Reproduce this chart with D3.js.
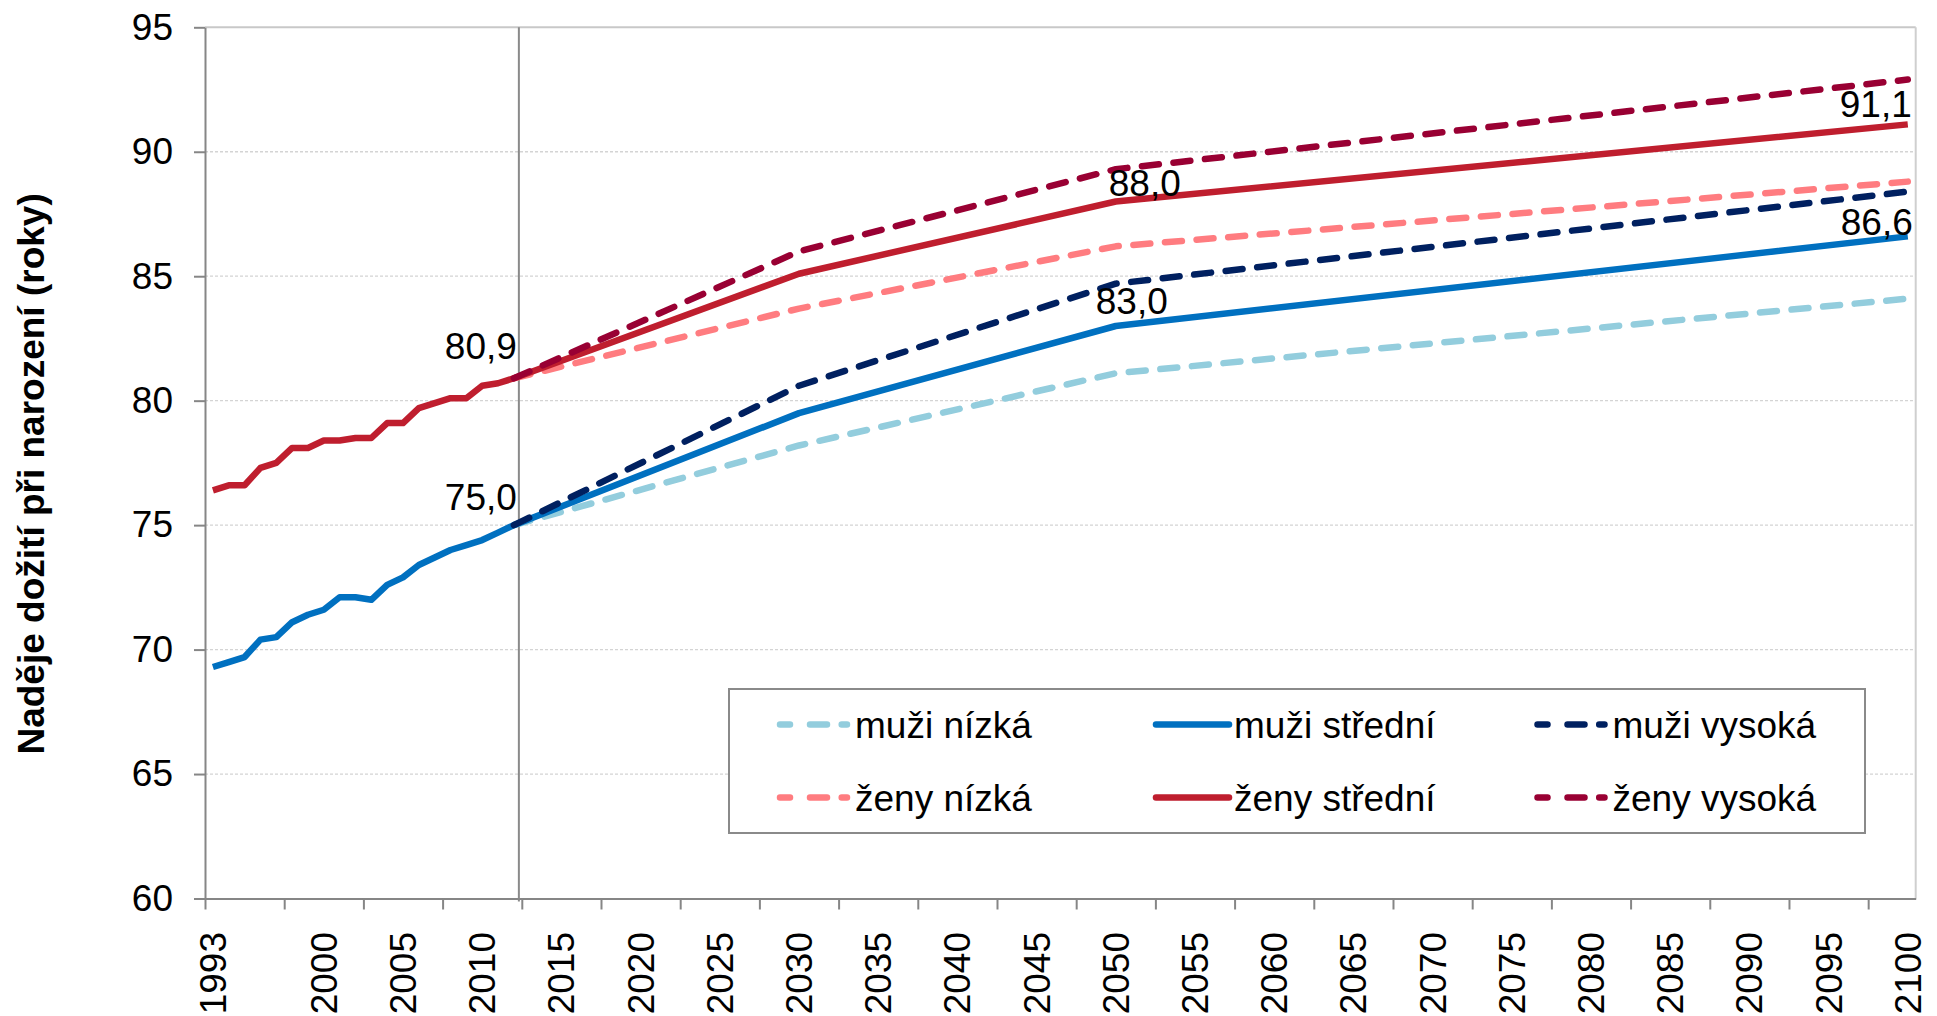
<!DOCTYPE html>
<html>
<head>
<meta charset="utf-8">
<script src="https://cdn.jsdelivr.net/npm/d3@7"></script>
<style>
  html, body { margin: 0; padding: 0; background: #fff; }
  svg { display: block; font-family: "Liberation Sans", Arial, sans-serif; }
</style>
</head>
<body>
<svg id="chart" width="1937" height="1016"></svg>
<script>
// ---------------- DATA ----------------
const histYears = d3.range(1993, 2013); // 1993..2012
const menHist   = [69.3, 69.5, 69.7, 70.4, 70.5, 71.1, 71.4, 71.6, 72.1, 72.1, 72.0, 72.6, 72.9, 73.4, 73.7, 74.0, 74.2, 74.4, 74.7, 75.0];
const womenHist = [76.4, 76.6, 76.6, 77.3, 77.5, 78.1, 78.1, 78.4, 78.4, 78.5, 78.5, 79.1, 79.1, 79.7, 79.9, 80.1, 80.1, 80.6, 80.7, 80.9];

const projYears = [2012, 2030, 2050, 2100];
const muziNizka    = [75.0, 78.2, 81.1, 84.1];
const muziStredni  = [75.0, 79.5, 83.0, 86.6];
const muziVysoka   = [75.0, 80.6, 84.7, 88.4];
const zenyNizka    = [80.9, 83.7, 86.2, 88.8];
const zenyStredni  = [80.9, 85.1, 88.0, 91.1];
const zenyVysoka   = [80.9, 86.0, 89.3, 92.9];

const categories = d3.range(1993, 2101);               // 1993..2100
const xLabelYears = [1993].concat(d3.range(2000, 2101, 5));
const yTicks = [60, 65, 70, 75, 80, 85, 90, 95];

const labels = [
  {year: 2012, value: 80.9, text: "80,9"},
  {year: 2012, value: 75.0, text: "75,0"},
  {year: 2050, value: 88.0, text: "88,0"},
  {year: 2050, value: 83.0, text: "83,0"},
  {year: 2100, value: 91.1, text: "91,1"},
  {year: 2100, value: 86.6, text: "86,6"}
];
const legendNames = ["muži nízká", "muži střední", "muži vysoká", "ženy nízká", "ženy střední", "ženy vysoká"];

// ---------------- STYLE ----------------
const colors = {
  "muži nízká": "#93CDDD", "muži střední": "#0070C0", "muži vysoká": "#002060",
  "ženy nízká": "#FF7C80", "ženy střední": "#BF1E2E", "ženy vysoká": "#990033"
};
const dashed = {"muži nízká": true, "muži střední": false, "muži vysoká": true,
                "ženy nízká": true, "ženy střední": false, "ženy vysoká": true};
const DASH = "17,14.7";
const LW = 6.5;
const FS = 37;

const pLeft = 205, pRight = 1915.7, pTop = 27.3, pBottom = 898.5;

const svg = d3.select("#chart");

const x = d3.scaleBand().domain(categories).range([pLeft, pRight]).padding(0);
const bw = x.bandwidth();
const xc = yr => x(yr) + bw / 2;
const xIdx = d3.scaleLinear().domain([0, categories.length]).range([pLeft, pRight]);
const y = d3.scaleLinear().domain([60, 95]).range([pBottom, pTop]);

// gridlines
svg.append("g").selectAll("line").data(yTicks.filter(t => t > 60 && t < 95)).join("line")
  .attr("x1", pLeft).attr("x2", pRight)
  .attr("y1", d => y(d)).attr("y2", d => y(d))
  .attr("stroke", "#d4d4d4").attr("stroke-width", 1.3).attr("stroke-dasharray", "3,2");

// plot border top/right
svg.append("line").attr("x1", pLeft).attr("x2", pRight).attr("y1", y(95)).attr("y2", y(95))
  .attr("stroke", "#c8c8c8").attr("stroke-width", 2);
svg.append("line").attr("x1", pRight).attr("x2", pRight).attr("y1", pTop).attr("y2", pBottom)
  .attr("stroke", "#cfcfcf").attr("stroke-width", 2);

// divider line after last observed year
const divX = xc(histYears[histYears.length - 1]) + 5;
svg.append("line").attr("x1", divX).attr("x2", divX).attr("y1", pTop).attr("y2", pBottom + 3)
  .attr("stroke", "#8a8a8a").attr("stroke-width", 2);

// y axis
const yAxis = svg.append("g").attr("transform", `translate(${pLeft},0)`)
  .call(d3.axisLeft(y).tickValues(yTicks).tickSize(11).tickPadding(21).tickSizeOuter(0));
yAxis.select(".domain").attr("stroke", "#868686").attr("stroke-width", 2);
yAxis.selectAll(".tick line").attr("stroke", "#868686").attr("stroke-width", 2);
yAxis.selectAll("text").attr("font-size", FS).attr("fill", "#000")
  .attr("font-family", "Liberation Sans, Arial, sans-serif");

// x axis: tick marks at category boundaries every 5
const xTickAxis = svg.append("g").attr("transform", `translate(0,${pBottom})`)
  .call(d3.axisBottom(xIdx).tickValues(d3.range(0, 106, 5)).tickSize(11).tickSizeOuter(0).tickFormat(""));
xTickAxis.select(".domain").attr("stroke", "#868686").attr("stroke-width", 2);
xTickAxis.selectAll(".tick line").attr("stroke", "#868686").attr("stroke-width", 2);

// x labels, rotated
const xLab = svg.append("g").attr("transform", `translate(0,${pBottom})`)
  .call(d3.axisBottom(x).tickValues(xLabelYears).tickSize(0).tickPadding(0));
xLab.select(".domain").remove();
xLab.selectAll("text")
  .attr("font-size", FS).attr("fill", "#000")
  .attr("font-family", "Liberation Sans, Arial, sans-serif")
  .attr("text-anchor", "end")
  .attr("y", 0).attr("dy", "0.35em")
  .attr("transform", "translate(0,33.5) rotate(-90)");

// y title
svg.append("text")
  .attr("transform", `translate(44,${(pTop + pBottom) / 2 + 11}) rotate(-90)`)
  .attr("text-anchor", "middle")
  .attr("font-size", FS).attr("font-weight", "bold").attr("fill", "#000")
  .text("Naděje dožití při narození (roky)");

// lines
const line = d3.line().x(d => xc(d[0])).y(d => y(d[1]));
const zip = (ys, vs) => ys.map((yr, i) => [yr, vs[i]]);
const series = [
  {name: "muži nízká",   pts: zip(projYears, muziNizka)},
  {name: "muži střední", pts: zip(histYears, menHist).concat(zip(projYears.slice(1), muziStredni.slice(1)))},
  {name: "muži vysoká",  pts: zip(projYears, muziVysoka)},
  {name: "ženy nízká",   pts: zip(projYears, zenyNizka)},
  {name: "ženy střední", pts: zip(histYears, womenHist).concat(zip(projYears.slice(1), zenyStredni.slice(1)))},
  {name: "ženy vysoká",  pts: zip(projYears, zenyVysoka)}
];
svg.append("g").selectAll("path").data(series).join("path")
  .attr("d", d => line(d.pts))
  .attr("fill", "none")
  .attr("stroke", d => colors[d.name])
  .attr("stroke-width", LW)
  .attr("stroke-linejoin", "round")
  .attr("stroke-linecap", d => dashed[d.name] ? "round" : "butt")
  .attr("stroke-dasharray", d => dashed[d.name] ? DASH : null);

// data labels
const labelPos = {
  "80,9": {dx: 3, dy: -19, anchor: "end"},
  "75,0": {dx: 3, dy: -15, anchor: "end"},
  "88,0": {dx: -7, dy: -6, anchor: "start"},
  "83,0": {dx: -20, dy: -12, anchor: "start"},
  "91,1": {dx: 4, dy: -7, anchor: "end"},
  "86,6": {dx: 5, dy: -1, anchor: "end"}
};
svg.append("g").selectAll("text").data(labels).join("text")
  .attr("x", d => xc(d.year) + labelPos[d.text].dx)
  .attr("y", d => y(d.value) + labelPos[d.text].dy)
  .attr("text-anchor", d => labelPos[d.text].anchor)
  .attr("font-size", FS).attr("fill", "#000")
  .text(d => d.text);

// legend
const lg = svg.append("g");
lg.append("rect").attr("x", 729).attr("y", 689).attr("width", 1136).attr("height", 144)
  .attr("fill", "#fff").attr("stroke", "#8a8a8a").attr("stroke-width", 2);
const colX = [777, 1156, 1534.5];
const rowY = [724.5, 797.5];
legendNames.forEach((name, i) => {
  const cx = colX[i % 3], cy = rowY[Math.floor(i / 3)];
  const g = lg.append("g");
  g.append("line")
    .attr("x1", cx + (dashed[name] ? 3 : 0)).attr("x2", cx + (dashed[name] ? 70 : 73))
    .attr("y1", cy).attr("y2", cy)
    .attr("stroke", colors[name]).attr("stroke-width", LW)
    .attr("stroke-linecap", "round")
    .attr("stroke-dasharray", dashed[name] ? "10,20,17,14.7" : null);
  g.append("text").attr("x", cx + 78).attr("y", cy).attr("dy", "0.36em")
    .attr("font-size", FS).attr("fill", "#000").text(name);
});
</script>
</body>
</html>
